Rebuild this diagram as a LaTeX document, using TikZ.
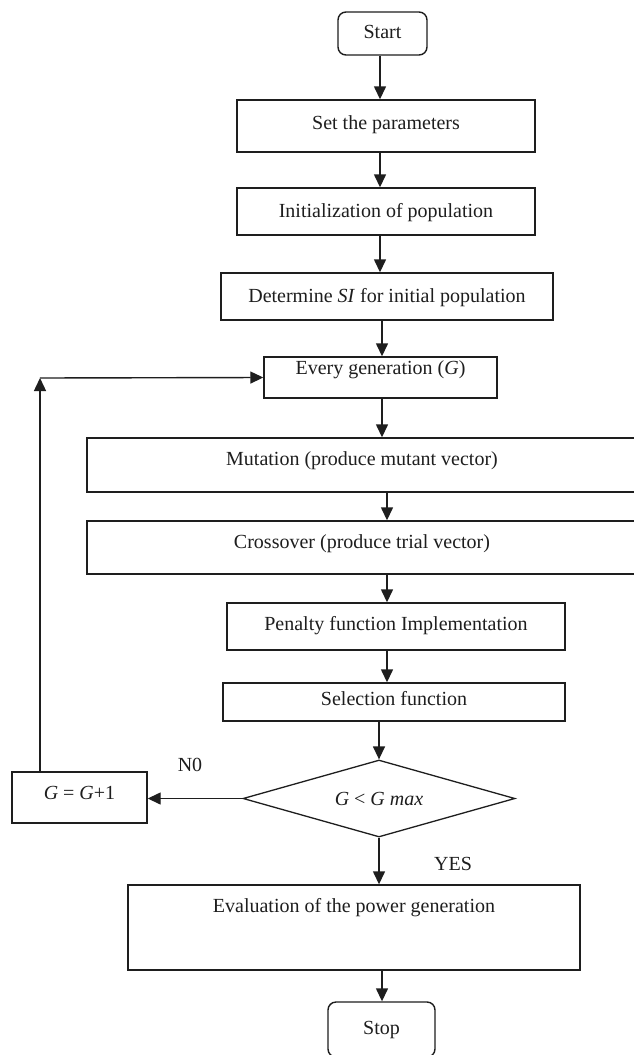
\documentclass[tikz,border=0pt]{standalone}
\usepackage{fontspec}
\setmainfont{Liberation Serif}
\usetikzlibrary{arrows.meta,shapes.geometric}
\definecolor{ink}{HTML}{1E1E1E}
\tikzset{
  every node/.style={font=\fontsize{20}{24}\selectfont, text=ink},
  proc/.style={draw=ink, line width=1.4pt, inner xsep=0pt, inner ysep=0pt, anchor=base},
  term/.style={proc, rounded corners=8pt},
  decision/.style={draw=ink, line width=1.3pt, diamond, shape aspect=3.5, inner sep=0pt},
  flow/.style={draw=ink, line width=1.4pt, -{Triangle[width=12pt,length=13pt]}},
  lbl/.style={inner sep=0pt}
}
\begin{document}
\begin{tikzpicture}[x=1pt,y=-1pt]
\fill[white] (0,0) rectangle (633,1055);
\useasboundingbox (0,0) rectangle (633,1055);

\node[term, minimum width=89pt, text height=26pt, text depth=17pt] (start) at (382.5,38) {Start};
\node[proc, minimum width=298pt, text height=29pt, text depth=23pt] (set) at (386,129) {Set the parameters};
\node[proc, minimum width=298pt, text height=29pt, text depth=18pt] (init) at (386,217) {Initialization of population};
\node[proc, minimum width=332pt, text height=29pt, text depth=18pt] (det) at (387,302) {Determine \textit{SI} for initial population};
\node[proc, minimum width=233pt, text height=17pt, text depth=24pt] (every) at (380.5,374) {Every generation (\textit{G})};
\node[proc, minimum width=550pt, text height=27pt, text depth=27pt] (mut) at (362,465) {Mutation (produce mutant vector)};
\node[proc, minimum width=550pt, text height=27pt, text depth=26pt] (cross) at (362,548) {Crossover (produce trial vector)};
\node[proc, minimum width=338pt, text height=27pt, text depth=20pt] (pen) at (396,630) {Penalty function Implementation};
\node[proc, minimum width=342pt, text height=22pt, text depth=16pt] (sel) at (394,705) {Selection function};
\node[decision, minimum width=272pt, minimum height=77pt] (dia) at (379,798.5) {\textit{G} < \textit{G max}};
\node[proc, minimum width=135pt, text height=27pt, text depth=24pt] (gbox) at (79.5,799) {\textit{G} = \textit{G}+1};
\node[proc, minimum width=452pt, text height=27pt, text depth=58pt] (eval) at (354,912) {Evaluation of the power generation};
\node[term, minimum width=107pt, text height=32pt, text depth=23pt] (stop) at (381.5,1034) {Stop};

\node[lbl] (no) at (190,765) {N0};
\node[lbl] (yes) at (453,864) {YES};

\coordinate (c1) at (380,0);
\coordinate (c2) at (382,0);
\coordinate (c3) at (387,0);
\coordinate (corner) at (40,378);

\draw[flow] (start.south -| c1) -- (set.north -| c1);
\draw[flow] (set.south -| c1) -- (init.north -| c1);
\draw[flow] (init.south -| c1) -- (det.north -| c1);
\draw[flow] (det.south -| c2) -- (every.north -| c2);
\draw[flow] (every.south -| c2) -- (mut.north -| c2);
\draw[flow] (mut.south -| c3) -- (cross.north -| c3);
\draw[flow] (cross.south -| c3) -- (pen.north -| c3);
\draw[flow] (pen.south -| c3) -- (sel.north -| c3);
\draw[flow] (sel.south -| dia.north) -- (dia.north);
\draw[flow] (dia.south) -- (eval.north -| dia.south);
\draw[flow] (eval.south -| c2) -- (stop.north -| c2);
\draw[flow] (dia.west) -- (dia.west -| gbox.east);
\draw[flow] (gbox.north -| corner) -- (corner);
\draw[flow] (corner) -- (every.west);
\end{tikzpicture}
\end{document}
